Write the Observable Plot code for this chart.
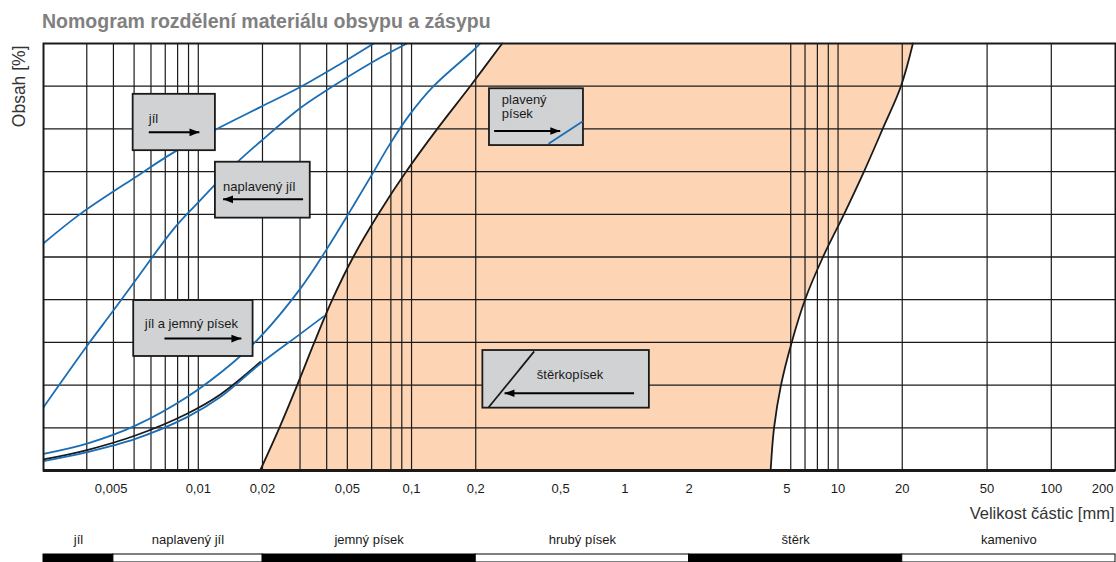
<!DOCTYPE html>
<html>
<head>
<meta charset="utf-8">
<script src="https://cdn.jsdelivr.net/npm/d3@7"></script>
<script src="https://cdn.jsdelivr.net/npm/@observablehq/plot@0.6"></script>
<style>
  body { margin: 0; background: #fff; font-family: "Liberation Sans", Arial, Helvetica, sans-serif; }
  #title { height: 35px; box-sizing: border-box; padding: 12px 0 0 42px; font-size: 19.5px; line-height: 19.5px;
           font-weight: bold; color: #808080; white-space: nowrap; }
  svg { display: block; overflow: visible; }
</style>
</head>
<body>
<div id="title">Nomogram rozdělení materiálu obsypu a zásypu</div>
<div id="main"></div>
<div id="band"></div>
<script>
// ---------- data ----------
const xDomain = [0.00188, 200];              // particle size range of the chart [mm]
const gridPct = [0, 10, 20, 30, 40, 50, 60, 70, 80, 90, 100];
const innerPct = [10, 20, 30, 40, 50, 60, 70, 80, 90];
const gridMm = [0.003, 0.004, 0.005, 0.006, 0.007, 0.008, 0.009, 0.01, 0.02, 0.03, 0.04,
                0.05, 0.065, 0.08, 0.09, 0.1, 0.2, 6, 7, 8, 9, 10, 20, 50, 100];
const tickMm = [0.01, 0.02, 0.05, 0.1, 0.2, 0.5, 1, 2, 10, 20, 50, 100];
const tickShiftLeft = [0.005];   // label drawn left of its line in the original
const tickShiftRight = [5];      // label drawn right of its position in the original
const tickEnd = [200];

// envelope of the suitable (orange) zone, sampled at each 10 %
const leftEdge  = [0.0195, 0.0240, 0.0291, 0.0350, 0.0425, 0.0533, 0.0698, 0.0944, 0.1320, 0.1884, 0.266];
const rightEdge = [4.83, 5.01, 5.40, 6.06, 7.00, 8.50, 10.66, 13.23, 16.19, 19.72, 22.44];

// grading curves
const jilX   = [0.00188, 0.0028, 0.00507, 0.00767, 0.01181, 0.01953, 0.0301, 0.0463, 0.0664];
const jilY   = [53.2, 60.1, 68.7, 74.5, 79.6, 85.1, 89.8, 95.2, 100];
const naplX  = [0.00188, 0.00301, 0.00395, 0.00507, 0.00767, 0.00987, 0.01465, 0.01953, 0.0301, 0.0401, 0.0664, 0.0952];
const naplY  = [14.8, 29.2, 37.1, 44.5, 56.6, 62.5, 71.4, 77.0, 84.9, 89.1, 95.8, 100];
const jemnyX = [0.00188, 0.00301, 0.00507, 0.00886, 0.01465, 0.01953, 0.0301, 0.0401, 0.0516, 0.0654, 0.0786, 0.0972, 0.1268, 0.194, 0.2098];
const jemnyY = [3.9, 6.3, 10.5, 17.2, 25.4, 31.3, 42.6, 51.9, 60.8, 69.4, 76.2, 83.1, 90.0, 98.3, 100];
const lowX   = [0.00188, 0.00301, 0.00507, 0.00886, 0.01269, 0.01953, 0.0301, 0.0387];
const lowY   = [2.2, 4.3, 7.4, 12.5, 17.2, 25.0, 32.0, 36.1];
const blackX = [0.00188, 0.00301, 0.00507, 0.00886, 0.01269, 0.01953];
const blackY = [2.6, 4.8, 8.2, 13.3, 17.8, 25.4];

// annotation boxes (data space)
const boxes = [
  {label: "jíl",               x1: 0.00495, x2: 0.01203, y1: 74.9, y2: 88.1, tx: 0.00586, ty: 81.3},
  {label: "naplavený jíl",     x1: 0.01203, x2: 0.0335,  y1: 59.1, y2: 72.2, tx: 0.01307, ty: 65.4},
  {label: "jíl a jemný písek", x1: 0.00498, x2: 0.01807, y1: 26.7, y2: 39.8, tx: 0.00561, ty: 33.4},
  {label: "plavený\npísek",    x1: 0.232,   x2: 0.640,   y1: 76.1, y2: 89.4, tx: 0.265,   ty: 82.6},
  {label: "štěrkopísek",       x1: 0.216,   x2: 1.304,   y1: 14.6, y2: 28.1, tx: 0.387,   ty: 21.5}
];
const arrows = [
  {from: 0.00586, to: 0.01012, y: 79.2},
  {from: 0.0310,  to: 0.01307, y: 63.5},
  {from: 0.00694, to: 0.01592, y: 30.9},
  {from: 0.244,   to: 0.498,   y: 79.5},
  {from: 1.105,   to: 0.273,   y: 18.1}
];
const blueSample  = [{x1: 0.439, y1: 76.5, x2: 0.636, y2: 81.8}];
const blackSample = [{x1: 0.230, y1: 14.8, x2: 0.376, y2: 27.9}];

// soil classes along the bottom
const bandNames = ["jíl", "naplavený jíl", "jemný písek", "hrubý písek", "štěrk", "kamenivo"];
const bandEdges = [0.00188, 0.004, 0.02, 0.2, 2, 20, 200];

// ---------- drawing ----------
const BLUE = "#1b6db4", ORANGE = "#fdd5b4", INK = "#1a1a1a";
const font = '"Liberation Sans", Arial, Helvetica, sans-serif';
const fmt = d => String(d).replace(".", ",");
const pts = (xs, ys) => xs.map((x, i) => ({x, y: ys[i]}));
const zone = gridPct.map((y, i) => ({y, x1: leftEdge[i], x2: rightEdge[i]}));
const headRight = {draw(ctx, size) { const r = Math.sqrt(size / Math.PI); ctx.moveTo(0, 0); ctx.lineTo(-2.2 * r, -0.85 * r); ctx.lineTo(-2.2 * r, 0.85 * r); ctx.closePath(); }};
const headLeft  = {draw(ctx, size) { const r = Math.sqrt(size / Math.PI); ctx.moveTo(0, 0); ctx.lineTo(2.2 * r, -0.85 * r); ctx.lineTo(2.2 * r, 0.85 * r); ctx.closePath(); }};
const curve = (xs, ys, stroke) => Plot.line(pts(xs, ys), {x: "x", y: "y", curve: "catmull-rom", stroke, strokeWidth: 1.8, clip: true});
const tickText = (values, extra) => Plot.text(values, {x: d => d, text: fmt, frameAnchor: "bottom", lineAnchor: "top",
                                                       dy: 13, fontSize: 13, fill: "#1a1a1a", ...extra});

const main = Plot.plot({
  width: 1116, height: 489,
  marginTop: 8, marginBottom: 54, marginLeft: 43, marginRight: 1,
  x: {type: "log", domain: xDomain, axis: null},
  y: {domain: [0, 100], axis: null},
  style: {fontFamily: font, color: INK, background: "transparent", overflow: "visible"},
  marks: [
    Plot.areaX(zone, {y: "y", x1: "x1", x2: "x2", fill: ORANGE, curve: "catmull-rom"}),
    Plot.ruleY(innerPct, {stroke: INK, strokeWidth: 1.3}),
    Plot.ruleX(gridMm, {stroke: INK, strokeWidth: 1.2}),
    Plot.line(zone, {x: "x1", y: "y", curve: "catmull-rom", stroke: INK, strokeWidth: 1.8}),
    Plot.line(zone, {x: "x2", y: "y", curve: "catmull-rom", stroke: INK, strokeWidth: 1.8}),
    curve(jilX, jilY, BLUE),
    curve(naplX, naplY, BLUE),
    curve(jemnyX, jemnyY, BLUE),
    curve(blackX, blackY, INK),
    curve(lowX, lowY, BLUE),
    Plot.frame({stroke: INK, strokeWidth: 2}),
    Plot.ruleY([0], {stroke: INK, strokeWidth: 3}),
    // annotation boxes
    Plot.rect(boxes, {x1: "x1", x2: "x2", y1: "y1", y2: "y2", fill: "#d1d2d4", stroke: INK, strokeWidth: 1.8}),
    Plot.link(blueSample, {x1: "x1", y1: "y1", x2: "x2", y2: "y2", stroke: BLUE, strokeWidth: 1.8}),
    Plot.link(blackSample, {x1: "x1", y1: "y1", x2: "x2", y2: "y2", stroke: INK, strokeWidth: 1.8}),
    Plot.link(arrows, {x1: "from", x2: "to", y1: "y", y2: "y", stroke: "#000", strokeWidth: 2}),
    Plot.dot(arrows.filter(d => d.to > d.from), {x: "to", y: "y", symbol: headRight, r: 4.5, fill: "#000", stroke: "none"}),
    Plot.dot(arrows.filter(d => d.to < d.from), {x: "to", y: "y", symbol: headLeft, r: 4.5, fill: "#000", stroke: "none"}),
    Plot.text(boxes, {x: "tx", y: "ty", text: "label", textAnchor: "start", lineAnchor: "bottom",
                      fontSize: 13, lineHeight: 1.08, fill: "#1a1a1a"}),
    // x axis labels
    tickText(tickMm, {}),
    tickText(tickShiftLeft, {dx: -23}),
    tickText(tickShiftRight, {dx: 13}),
    tickText(tickEnd, {textAnchor: "end", dx: -2}),
    Plot.text(["Velikost částic [mm]"], {text: d => d, frameAnchor: "bottom-right", textAnchor: "end", lineAnchor: "bottom",
                                        dy: 48, dx: -1, fontSize: 16.5, fill: "#333"}),
    Plot.text(["Obsah [%]"], {text: d => d, frameAnchor: "top-left", rotate: -90, textAnchor: "end", lineAnchor: "bottom",
                              dx: -19, dy: 2, fontSize: 17.5, fill: "#333"})
  ]
});
document.getElementById("main").append(main);

const bands = bandNames.map((name, i) => ({name, from: bandEdges[i], to: bandEdges[i + 1], dark: i % 2 === 0}));
const band = Plot.plot({
  width: 1116, height: 38,
  marginTop: 30, marginBottom: 0, marginLeft: 43, marginRight: 1,
  x: {type: "log", domain: xDomain, axis: null},
  style: {fontFamily: font, color: INK, background: "transparent", overflow: "visible"},
  marks: [
    Plot.rect(bands.filter(d => d.dark), {x1: "from", x2: "to", fill: "#000", stroke: "#000", strokeWidth: 1}),
    Plot.rect(bands.filter(d => !d.dark), {x1: "from", x2: "to", fill: "#fff", stroke: "#000", strokeWidth: 1}),
    Plot.text(bands, {x: d => Math.sqrt(d.from * d.to), text: "name", frameAnchor: "top", lineAnchor: "bottom",
                      dy: -11, fontSize: 13, fill: "#1a1a1a"})
  ]
});
document.getElementById("band").append(band);
</script>
</body>
</html>
